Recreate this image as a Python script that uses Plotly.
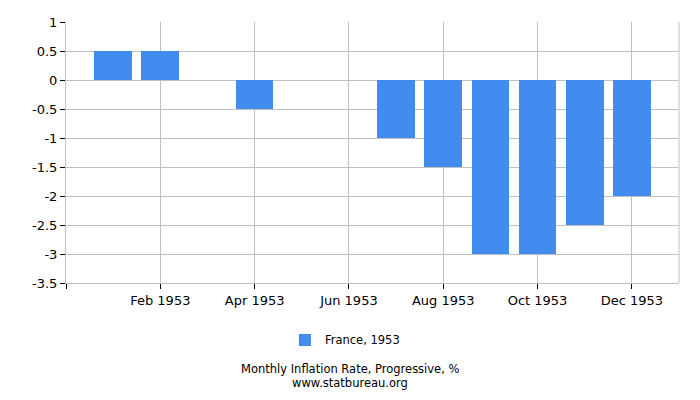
import plotly.graph_objects as go

months = ["Jan 1953", "Feb 1953", "Mar 1953", "Apr 1953", "May 1953", "Jun 1953",
          "Jul 1953", "Aug 1953", "Sep 1953", "Oct 1953", "Nov 1953", "Dec 1953"]
values = [0.5, 0.5, 0, -0.5, 0, 0, -1, -1.5, -3, -3, -2.5, -2]
tick_labels = ["", "Feb 1953", "Apr 1953", "Jun 1953", "Aug 1953", "Oct 1953", "Dec 1953"]
y_ticks = [1, 0.5, 0, -0.5, -1, -1.5, -2, -2.5, -3, -3.5]

idx = list(range(len(months)))
tick_pos = [-1] + [i for i in idx if months[i] in tick_labels]

fig = go.Figure()
fig.add_trace(go.Bar(
    x=idx, y=values, name="France, 1953", width=0.8,
    marker=dict(color="#428bef", line=dict(width=0)),
    hovertext=months,
))

axis_common = dict(
    showgrid=True, gridcolor="#c0c0c0", gridwidth=1,
    showline=True, linecolor="#c0c0c0", linewidth=1,
    ticks="outside", tickcolor="#000000", ticklen=5,
    tickfont=dict(family="DejaVu Sans", size=13, color="#000000"),
    zeroline=False, mirror=False, automargin=False,
)
# page body adds an 8px offset, margins are reduced to compensate
fig.update_layout(
    width=700, height=400,
    margin=dict(l=58, r=29, t=14, b=125, autoexpand=False),
    plot_bgcolor="white", paper_bgcolor="white",
    font=dict(family="DejaVu Sans", size=11, color="#000000"),
    bargap=0,
    xaxis=dict(range=[-1, 12], tickvals=tick_pos, ticktext=tick_labels, **axis_common),
    yaxis=dict(range=[-3.5, 1], tickvals=y_ticks,
               ticktext=[f"{v:g}" for v in y_ticks], **axis_common),
    showlegend=True,
    legend=dict(orientation="h", x=0.455, xanchor="center", y=-0.218, yanchor="middle",
                font=dict(family="DejaVu Sans", size=11.5)),
    annotations=[
        dict(text="Monthly Inflation Rate, Progressive, %", x=0.464, y=-0.331,
             xref="paper", yref="paper", showarrow=False, yanchor="middle",
             font=dict(family="DejaVu Sans", size=11.5)),
        dict(text="www.statbureau.org", x=0.464, y=-0.385,
             xref="paper", yref="paper", showarrow=False, yanchor="middle",
             font=dict(family="DejaVu Sans", size=11.5)),
    ],
)
fig.add_shape(type="line", xref="paper", yref="paper", x0=1, x1=1, y0=0, y1=1,
              line=dict(color="#c0c0c0", width=1))
fig.write_html("out.html")
